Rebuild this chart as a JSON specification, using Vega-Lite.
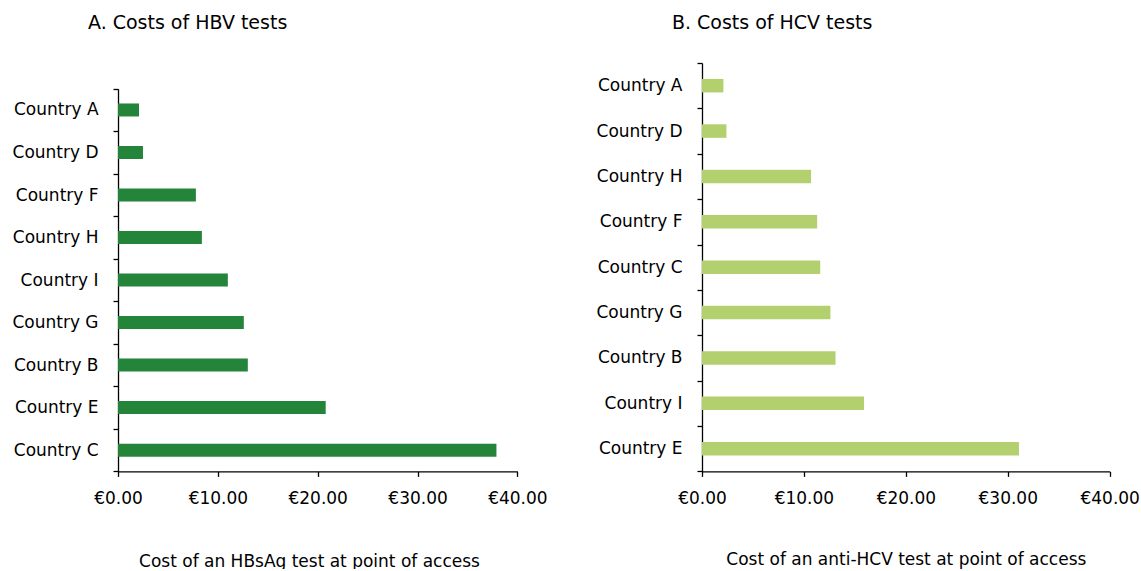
{
  "$schema": "https://vega.github.io/schema/vega-lite/v6.json",
  "padding": {"left": 11, "top": 14, "right": 0, "bottom": 0},
  "autosize": {"type": "pad"},
  "spacing": 47,
  "background": "white",
  "config": {
    "view": {"stroke": null},
    "font": "DejaVu Sans",
    "axis": {
      "labelFont": "DejaVu Sans",
      "titleFont": "DejaVu Sans",
      "labelFontSize": 17,
      "titleFontSize": 17,
      "titleFontWeight": "normal",
      "labelColor": "#000000",
      "titleColor": "#000000",
      "domainColor": "#000000",
      "tickColor": "#000000",
      "domainWidth": 1.3,
      "tickWidth": 1.3,
      "grid": false
    },
    "title": {"font": "DejaVu Sans", "fontSize": 19, "fontWeight": "normal", "color": "#000000", "anchor": "start", "frame": "group", "dx": -30, "offset": 21}
  },
  "datasets": {
    "hbv": [
      {"country": "Country A", "cost": 2.1},
      {"country": "Country D", "cost": 2.5},
      {"country": "Country F", "cost": 7.8},
      {"country": "Country H", "cost": 8.4},
      {"country": "Country I", "cost": 11.0},
      {"country": "Country G", "cost": 12.6},
      {"country": "Country B", "cost": 13.0},
      {"country": "Country E", "cost": 20.8},
      {"country": "Country C", "cost": 37.9}
    ],
    "hcv": [
      {"country": "Country A", "cost": 2.1},
      {"country": "Country D", "cost": 2.4},
      {"country": "Country H", "cost": 10.7},
      {"country": "Country F", "cost": 11.3},
      {"country": "Country C", "cost": 11.6},
      {"country": "Country G", "cost": 12.6},
      {"country": "Country B", "cost": 13.1},
      {"country": "Country I", "cost": 15.9},
      {"country": "Country E", "cost": 31.1}
    ]
  },
  "hconcat": [
    {
      "title": {"text": "A. Costs of HBV tests"},
      "width": 399.4,
      "height": 408.4,
      "data": {"name": "hbv"},
      "mark": {"type": "bar", "size": 13, "color": "#23843a"},
      "encoding": {
        "y": {
          "field": "country", "type": "nominal",
          "sort": {"field": "cost", "order": "ascending"},
          "scale": {"paddingInner": 0, "paddingOuter": 0, "range": [25.7, 408.4]},
          "axis": {"title": null, "tickBand": "extent", "tickSize": 5, "labelPadding": 15}
        },
        "x": {
          "field": "cost", "type": "quantitative",
          "scale": {"domain": [0, 40], "nice": false},
          "axis": {"values": [0, 10, 20, 30, 40], "labelExpr": "'€' + format(datum.value, '.2f')", "labelFlush": false, "labelOverlap": false, "tickSize": 5, "labelPadding": 14, "title": "Cost of an HBsAg test at point of access", "titlePadding": 47, "titleX": 191}
        }
      }
    },
    {
      "title": {"text": "B. Costs of HCV tests"},
      "width": 407.7,
      "height": 408.4,
      "data": {"name": "hcv"},
      "mark": {"type": "bar", "size": 13.5, "color": "#b2d16e"},
      "encoding": {
        "y": {
          "field": "country", "type": "nominal",
          "sort": {"field": "cost", "order": "ascending"},
          "scale": {"paddingInner": 0, "paddingOuter": 0},
          "axis": {"title": null, "tickBand": "extent", "tickSize": 5, "labelPadding": 15}
        },
        "x": {
          "field": "cost", "type": "quantitative",
          "scale": {"domain": [0, 40], "nice": false},
          "axis": {"values": [0, 10, 20, 30, 40], "labelExpr": "'€' + format(datum.value, '.2f')", "labelFlush": false, "labelOverlap": false, "tickSize": 5, "labelPadding": 14, "title": "Cost of an anti-HCV test at point of access", "titlePadding": 45}
        }
      }
    }
  ]
}
